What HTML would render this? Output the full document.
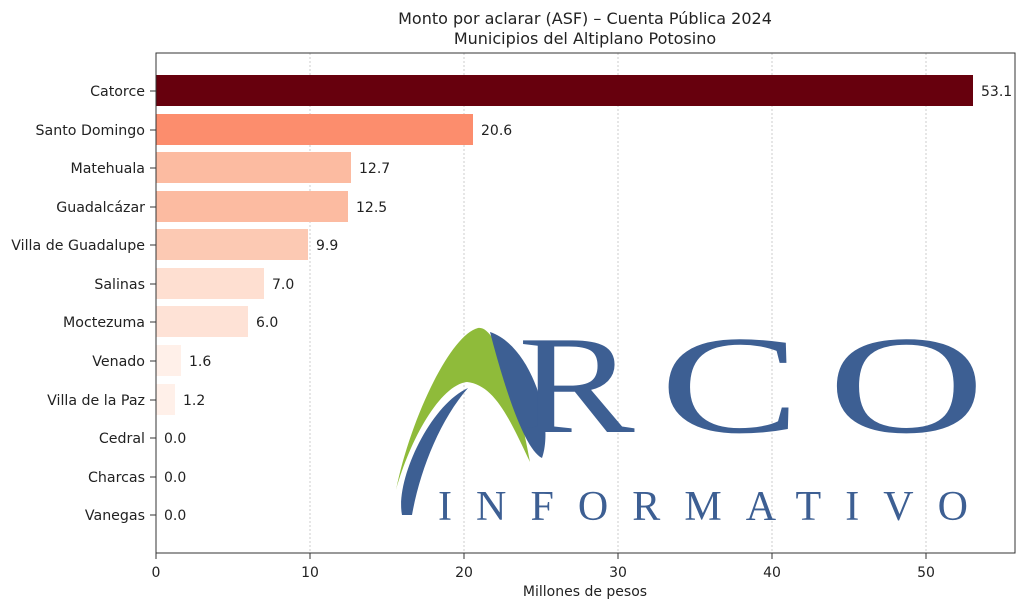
<!DOCTYPE html><html><head><style>body{margin:0;background:#fff}svg{display:block}</style></head><body>
<svg width="1024" height="609" xmlns="http://www.w3.org/2000/svg" font-family="DejaVu Sans, Liberation Sans, sans-serif">
<rect width="1024" height="609" fill="#fff"/>
<g stroke="#ccc" stroke-dasharray="2,2" stroke-width="1">
<line x1="310" y1="53" x2="310" y2="553"/><line x1="464" y1="53" x2="464" y2="553"/><line x1="618" y1="53" x2="618" y2="553"/><line x1="772" y1="53" x2="772" y2="553"/><line x1="926" y1="53" x2="926" y2="553"/></g>
<g>
<rect x="156" y="75" width="817" height="31" fill="#67000d"/>
<rect x="156" y="114" width="317" height="31" fill="#fc8d6d"/>
<rect x="156" y="152" width="195" height="31" fill="#fcbba1"/>
<rect x="156" y="191" width="192" height="31" fill="#fcbba1"/>
<rect x="156" y="229" width="152" height="31" fill="#fcc9b3"/>
<rect x="156" y="268" width="108" height="31" fill="#fedfd1"/>
<rect x="156" y="306" width="92" height="31" fill="#fee2d6"/>
<rect x="156" y="345" width="25" height="31" fill="#fff0e9"/>
<rect x="156" y="384" width="19" height="31" fill="#fff0e9"/>
</g>
<g font-size="14" fill="#222">
<text x="981" y="96">53.1</text><text x="481" y="135">20.6</text><text x="359" y="173">12.7</text><text x="356" y="212">12.5</text><text x="316" y="250">9.9</text><text x="272" y="289">7.0</text><text x="256" y="327">6.0</text><text x="189" y="366">1.6</text><text x="183" y="405">1.2</text><text x="164" y="443">0.0</text><text x="164" y="482">0.0</text><text x="164" y="520">0.0</text>
</g>
<g font-size="14.2" fill="#222" text-anchor="end">
<text x="145" y="96">Catorce</text><text x="145" y="135">Santo Domingo</text><text x="145" y="173">Matehuala</text><text x="145" y="212">Guadalcázar</text><text x="145" y="250">Villa de Guadalupe</text><text x="145" y="289">Salinas</text><text x="145" y="327">Moctezuma</text><text x="145" y="366">Venado</text><text x="145" y="405">Villa de la Paz</text><text x="145" y="443">Cedral</text><text x="145" y="482">Charcas</text><text x="145" y="520">Vanegas</text>
</g>
<g stroke="#333" stroke-width="1">
<line x1="150" y1="91" x2="156" y2="91"/><line x1="150" y1="130" x2="156" y2="130"/><line x1="150" y1="168" x2="156" y2="168"/><line x1="150" y1="207" x2="156" y2="207"/><line x1="150" y1="245" x2="156" y2="245"/><line x1="150" y1="284" x2="156" y2="284"/><line x1="150" y1="322" x2="156" y2="322"/><line x1="150" y1="361" x2="156" y2="361"/><line x1="150" y1="400" x2="156" y2="400"/><line x1="150" y1="438" x2="156" y2="438"/><line x1="150" y1="477" x2="156" y2="477"/><line x1="150" y1="515" x2="156" y2="515"/>
<line x1="156" y1="553" x2="156" y2="559"/><line x1="310" y1="553" x2="310" y2="559"/><line x1="464" y1="553" x2="464" y2="559"/><line x1="618" y1="553" x2="618" y2="559"/><line x1="772" y1="553" x2="772" y2="559"/><line x1="926" y1="553" x2="926" y2="559"/>
</g>
<rect x="156" y="53" width="859" height="500" fill="none" stroke="#333" stroke-width="1"/>
<g font-size="14" fill="#222" text-anchor="middle">
<text x="156" y="577">0</text><text x="310" y="577">10</text><text x="464" y="577">20</text><text x="618" y="577">30</text><text x="772" y="577">40</text><text x="926" y="577">50</text>
<text x="585" y="596">Millones de pesos</text>
<text x="585" y="24" font-size="16">Monto por aclarar (ASF) – Cuenta Pública 2024</text>
<text x="585" y="44" font-size="16">Municipios del Altiplano Potosino</text>
</g>
<!-- logo -->
<path d="M396,490 C410,420 450,335 478,328 C495,325 515,380 530,462 C510,420 495,385 467,382 C440,385 410,440 396,490Z" fill="#8fbb3a"/>
<path d="M402,515 C395,480 430,405 468,388 C440,420 420,470 412,515 Z" fill="#3d5f93"/>
<path d="M490,332 C530,345 555,420 542,458 C525,450 505,390 490,332Z" fill="#3d5f93"/>
<g fill="#3d5f93" font-family="Liberation Serif, serif" font-size="140">
<text transform="translate(518,432) scale(1.25,1)">R</text>
<text transform="translate(660,432) scale(1.5,1)">C</text>
<text transform="translate(828,432) scale(1.55,1)">O</text>
<text x="438" y="520" font-size="42" textLength="550" lengthAdjust="spacing" letter-spacing="20">INFORMATIVO</text>
</g>
</svg>
</body></html>
